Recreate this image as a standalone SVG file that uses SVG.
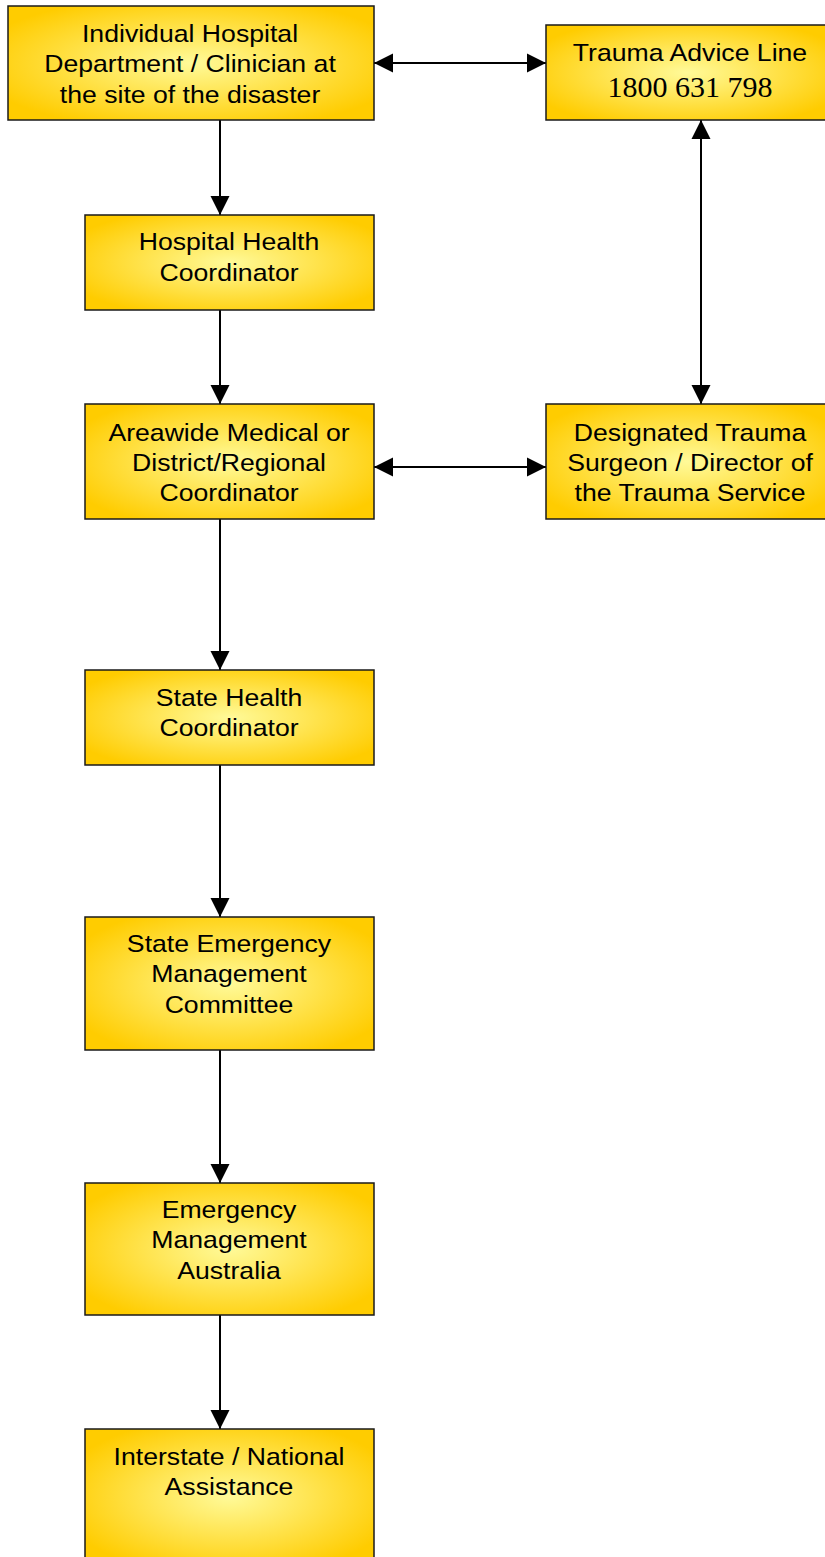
<svg xmlns="http://www.w3.org/2000/svg" width="825" height="1557" viewBox="0 0 825 1557">
<style>
.box{stroke:#1a1a1a;stroke-width:1.5;fill:url(#g)}
.t{font-family:"Liberation Sans",Arial,sans-serif;font-size:24px;fill:#000;text-anchor:middle}
.n{font-family:"Liberation Serif","Times New Roman",serif;font-size:30px;fill:#000;text-anchor:middle}
.c{stroke:#000;stroke-width:2;fill:none}
</style>
<defs>
<radialGradient id="g" cx="0.5" cy="0.5" r="0.6">
<stop offset="0" stop-color="#FFFA99"/>
<stop offset="1" stop-color="#FFCC00"/>
</radialGradient>
<marker id="a" viewBox="0 0 20 20" refX="20" refY="10" markerWidth="19" markerHeight="20" markerUnits="userSpaceOnUse" orient="auto">
<path d="M0,0 L20,10 L0,20 Z" fill="#000"/>
</marker>
<marker id="as" viewBox="0 0 20 20" refX="0" refY="10" markerWidth="19" markerHeight="20" markerUnits="userSpaceOnUse" orient="auto">
<path d="M20,0 L0,10 L20,20 Z" fill="#000"/>
</marker>
</defs>
<rect width="825" height="1557" fill="#fff"/>
<g id="connectors">
<line class="c" x1="374" y1="63" x2="546" y2="63" marker-start="url(#as)" marker-end="url(#a)"/>
<line class="c" x1="701" y1="120" x2="701" y2="404" marker-start="url(#as)" marker-end="url(#a)"/>
<line class="c" x1="374" y1="467" x2="546" y2="467" marker-start="url(#as)" marker-end="url(#a)"/>
<line class="c" x1="220" y1="120" x2="220" y2="215" marker-end="url(#a)"/>
<line class="c" x1="220" y1="310" x2="220" y2="404" marker-end="url(#a)"/>
<line class="c" x1="220" y1="519" x2="220" y2="670" marker-end="url(#a)"/>
<line class="c" x1="220" y1="765" x2="220" y2="917" marker-end="url(#a)"/>
<line class="c" x1="220" y1="1050" x2="220" y2="1183" marker-end="url(#a)"/>
<line class="c" x1="220" y1="1315" x2="220" y2="1429" marker-end="url(#a)"/>
</g>
<g id="n1">
<rect class="box" x="8" y="6" width="366" height="114"/>
<text class="t" transform="translate(190,42) scale(1.11,1)">Individual Hospital</text>
<text class="t" transform="translate(190,72) scale(1.11,1)">Department / Clinician at</text>
<text class="t" transform="translate(190,103) scale(1.11,1)">the site of the disaster</text>
</g>
<g id="n2">
<rect class="box" x="546" y="25" width="282" height="95"/>
<text class="t" transform="translate(690,61) scale(1.11,1)">Trauma Advice Line</text>
<text class="n" x="690" y="97">1800 631 798</text>
</g>
<g id="n3">
<rect class="box" x="85" y="215" width="289" height="95"/>
<text class="t" transform="translate(229,250) scale(1.11,1)">Hospital Health</text>
<text class="t" transform="translate(229,281) scale(1.11,1)">Coordinator</text>
</g>
<g id="n4">
<rect class="box" x="85" y="404" width="289" height="115"/>
<text class="t" transform="translate(229,441) scale(1.11,1)">Areawide Medical or</text>
<text class="t" transform="translate(229,471) scale(1.11,1)">District/Regional</text>
<text class="t" transform="translate(229,501) scale(1.11,1)">Coordinator</text>
</g>
<g id="n5">
<rect class="box" x="546" y="404" width="282" height="115"/>
<text class="t" transform="translate(690,441) scale(1.11,1)">Designated Trauma</text>
<text class="t" transform="translate(690,471) scale(1.11,1)">Surgeon / Director of</text>
<text class="t" transform="translate(690,501) scale(1.11,1)">the Trauma Service</text>
</g>
<g id="n6">
<rect class="box" x="85" y="670" width="289" height="95"/>
<text class="t" transform="translate(229,706) scale(1.11,1)">State Health</text>
<text class="t" transform="translate(229,736) scale(1.11,1)">Coordinator</text>
</g>
<g id="n7">
<rect class="box" x="85" y="917" width="289" height="133"/>
<text class="t" transform="translate(229,952) scale(1.11,1)">State Emergency</text>
<text class="t" transform="translate(229,982) scale(1.11,1)">Management</text>
<text class="t" transform="translate(229,1013) scale(1.11,1)">Committee</text>
</g>
<g id="n8">
<rect class="box" x="85" y="1183" width="289" height="132"/>
<text class="t" transform="translate(229,1218) scale(1.11,1)">Emergency</text>
<text class="t" transform="translate(229,1248) scale(1.11,1)">Management</text>
<text class="t" transform="translate(229,1279) scale(1.11,1)">Australia</text>
</g>
<g id="n9">
<rect class="box" x="85" y="1429" width="289" height="135"/>
<text class="t" transform="translate(229,1465) scale(1.11,1)">Interstate / National</text>
<text class="t" transform="translate(229,1495) scale(1.11,1)">Assistance</text>
</g>
</svg>
